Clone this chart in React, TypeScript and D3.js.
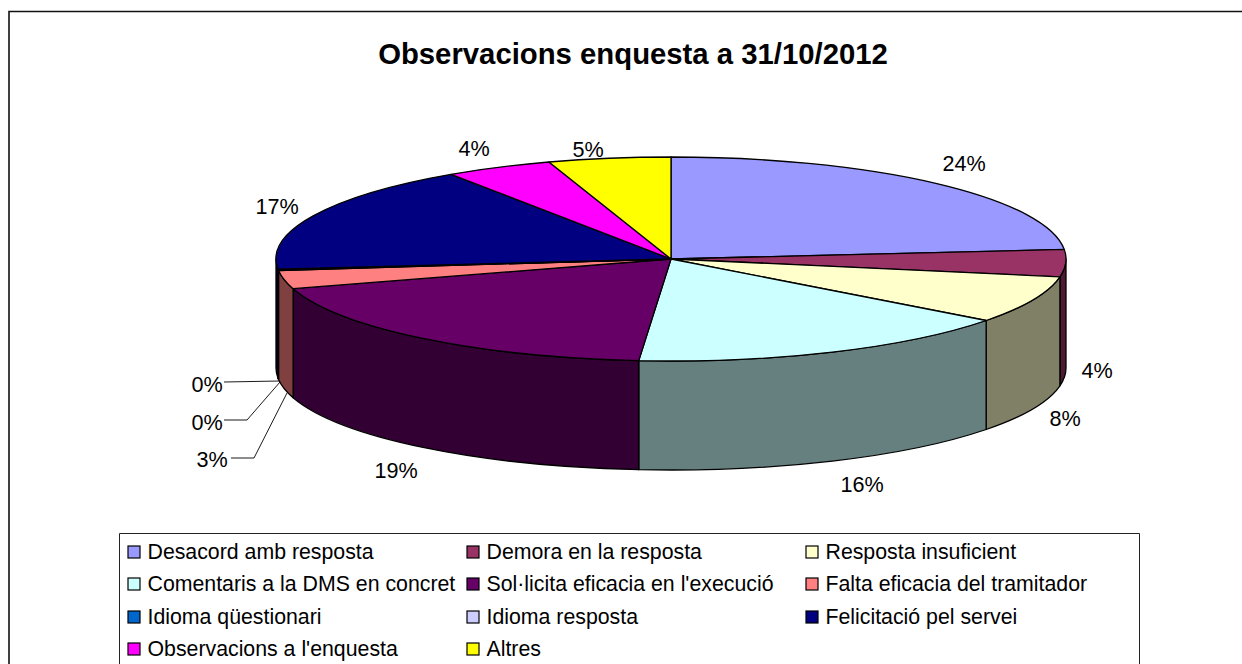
import React, { useMemo } from "react";
import * as d3 from "d3";

const chartTitle = "Observacions enquesta a 31/10/2012";

const categories = [
  "Desacord amb resposta",
  "Demora en la resposta",
  "Resposta insuficient",
  "Comentaris a la DMS en concret",
  "Sol·licita eficacia en l'execució",
  "Falta eficacia del tramitador",
  "Idioma qüestionari",
  "Idioma resposta",
  "Felicitació pel servei",
  "Observacions a l'enquesta",
  "Altres",
];

// Shares in percent, one per category, rounded for display in the labels.
const shares = [23.5, 4.3, 7.5, 16.0, 19.0, 2.9, 0.1, 0.1, 17.2, 4.4, 5.0];

const topColors = [
  "#9999FF", "#993366", "#FFFFCC", "#CCFFFF", "#660066", "#FF8080",
  "#0066CC", "#CCCCFF", "#000080", "#FF00FF", "#FFFF00",
];

// Label centres, in category order.
const labelPositions: [number, number][] = [
  [964, 163], [1097, 370], [1065, 418], [862, 484], [396, 470], [212, 459],
  [207, 422], [207, 384], [277, 206], [474, 148], [588, 149],
];

// Leader lines for the three small slices on the left.
const leaderLines: [number, number][][] = [
  [[224, 382], [280, 381]],
  [[224, 420], [247, 420], [280, 382]],
  [[231, 458], [254, 458], [287, 393]],
];

const legendColumns = [128, 467, 806];
const legendRows = [552, 584, 617, 649];

const FONT = "'Liberation Sans', Arial, sans-serif";
const CX = 671;
const CY = 259;
const RX = 395;
const RY = 102;
const DEPTH = 109;

const rim = (t: number): [number, number] => [CX + RX * Math.sin(t), CY - RY * Math.cos(t)];

const topPath = (a0: number, a1: number) => {
  const [x0, y0] = rim(a0);
  const [x1, y1] = rim(a1);
  const large = a1 - a0 > Math.PI ? 1 : 0;
  return `M${CX},${CY}L${x0},${y0}A${RX},${RY} 0 ${large} 1 ${x1},${y1}Z`;
};

// The visible wall of a slice is the part of its rim on the near half of the disc.
const wallPath = (a0: number, a1: number) => {
  const s = Math.max(a0, Math.PI / 2);
  const e = Math.min(a1, (3 * Math.PI) / 2);
  if (e <= s) return null;
  const [x0, y0] = rim(s);
  const [x1, y1] = rim(e);
  return (
    `M${x0},${y0}A${RX},${RY} 0 0 1 ${x1},${y1}` +
    `L${x1},${y1 + DEPTH}A${RX},${RY} 0 0 0 ${x0},${y0 + DEPTH}Z`
  );
};

const shade = (color: string) => {
  const c = d3.rgb(color);
  return d3.rgb(c.r / 2, c.g / 2, c.b / 2).formatHex();
};

export default function App() {
  const slices = useMemo(() => {
    const pie = d3
      .pie<number>()
      .sort(null)
      .value((d) => d)
      .startAngle(0)
      .endAngle(2 * Math.PI);
    return pie(shares);
  }, []);
  const leader = d3.line();

  return (
    <svg
      width={1242}
      height={664}
      style={{ position: "absolute", left: 0, top: 0, display: "block", background: "#fff" }}
      fontFamily={FONT}
    >
      <path d="M9,664V11.5H1242" fill="none" stroke="#111" strokeWidth={1.6} />
      <text x={633} y={64} textAnchor="middle" fontSize={29.3} fontWeight="bold" fill="#000">
        {chartTitle}
      </text>

      {slices.map((s, i) => {
        const d = wallPath(s.startAngle, s.endAngle);
        return d ? (
          <path key={i} d={d} fill={shade(topColors[i])} stroke="#000" strokeWidth={1.3} strokeLinejoin="round" />
        ) : null;
      })}
      {slices.map((s, i) => (
        <path
          key={i}
          d={topPath(s.startAngle, s.endAngle)}
          fill={topColors[i]}
          stroke="#000"
          strokeWidth={1.3}
          strokeLinejoin="round"
        />
      ))}

      {leaderLines.map((pts, i) => (
        <path key={i} d={leader(pts) ?? ""} fill="none" stroke="#000" strokeWidth={0.9} />
      ))}
      {slices.map((s, i) => (
        <text
          key={i}
          x={labelPositions[i][0]}
          y={labelPositions[i][1] + 7.5}
          textAnchor="middle"
          fontSize={21.6}
          fill="#000"
        >
          {`${Math.round(s.data)}%`}
        </text>
      ))}

      <path d="M119.5,664V533.5H1139.5V664" fill="none" stroke="#222" strokeWidth={1} />
      {categories.map((name, i) => {
        const x = legendColumns[i % 3];
        const y = legendRows[Math.floor(i / 3)];
        return (
          <g key={name}>
            <rect x={x} y={y - 6} width={12} height={12} fill={topColors[i]} stroke="#000" strokeWidth={1.2} />
            <text x={x + 19.5} y={y + 7} fontSize={21.3} fill="#000">
              {name}
            </text>
          </g>
        );
      })}
    </svg>
  );
}
